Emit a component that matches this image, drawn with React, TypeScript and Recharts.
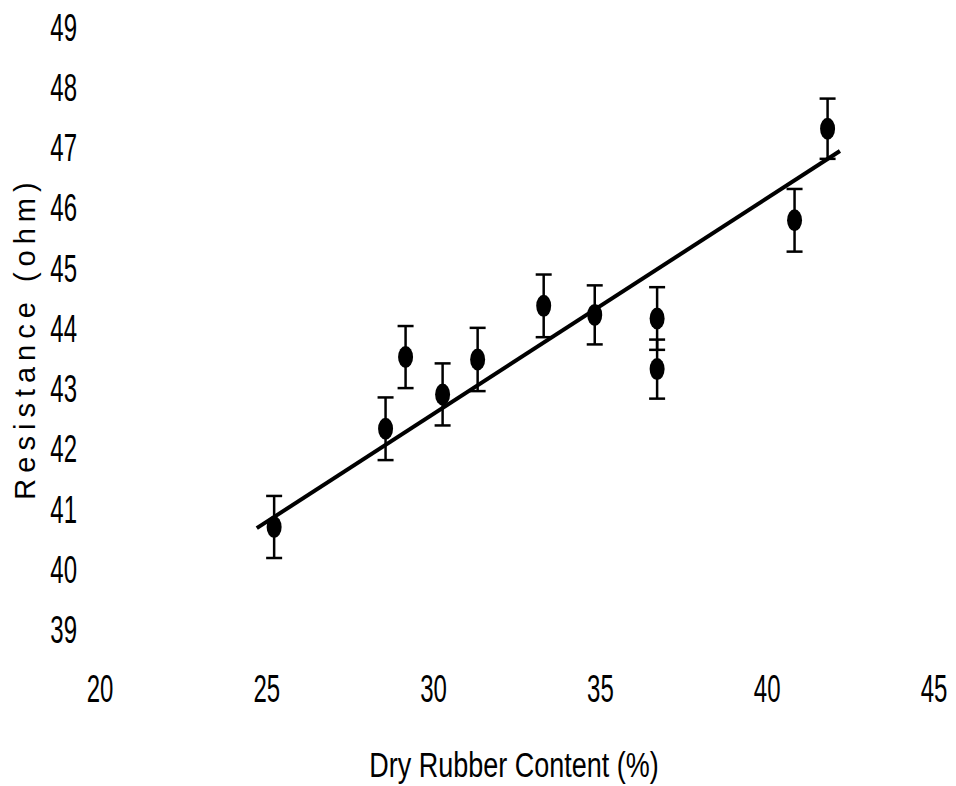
import { ErrorBar, Scatter, ScatterChart, XAxis, YAxis } from "recharts";

const drc = [25.22, 28.56, 29.16, 30.27, 31.32, 33.3, 34.83, 36.7, 36.7, 40.82, 41.81];
const resistance = [40.71, 42.34, 43.53, 42.91, 43.49, 44.38, 44.23, 44.17, 43.33, 45.8, 47.32];
const errors = [0.515, 0.52, 0.515, 0.515, 0.525, 0.52, 0.49, 0.52, 0.49, 0.52, 0.5];

const fitX = [24.7, 42.18];
const fitY = [40.69, 46.95];

const xTicks = [20, 25, 30, 35, 40, 45];
const yTicks = [39, 40, 41, 42, 43, 44, 45, 46, 47, 48, 49];

const points = drc.map((x, i) => ({ x, y: resistance[i], err: errors[i] }));
const fitLine = fitX.map((x, i) => ({ x, y: fitY[i] }));

const FONT = '"Liberation Sans", Arial, sans-serif';

const Dot = (props: any) => (
  <ellipse cx={props.cx} cy={props.cy} rx={7.5} ry={11} fill="#000" />
);

const YTick = (props: any) => (
  <text
    transform={`translate(77, ${props.y}) scale(1, 1.6)`}
    textAnchor="end"
    dominantBaseline="central"
    fontSize={24}
    fontFamily={FONT}
    fill="#000"
  >
    {props.payload.value}
  </text>
);

const XTick = (props: any) => (
  <text
    transform={`translate(${props.x}, 689) scale(1, 1.6)`}
    textAnchor="middle"
    dominantBaseline="central"
    fontSize={24}
    fontFamily={FONT}
    fill="#000"
  >
    {props.payload.value}
  </text>
);

export default function App() {
  return (
    <div style={{ position: "absolute", left: 0, top: 0, width: 956, height: 786, background: "#fff" }}>
      <ScatterChart width={956} height={786} margin={{ top: 27.5, right: 22, bottom: 96, left: 0 }}>
        <XAxis
          type="number"
          dataKey="x"
          domain={[20, 45]}
          ticks={xTicks}
          axisLine={false}
          tickLine={false}
          height={60}
          tick={XTick}
          label={() => (
            <text
              transform="translate(514, 776.5) scale(1, 1.29)"
              textAnchor="middle"
              fontSize={27}
              fontFamily={FONT}
              fill="#000"
            >
              Dry Rubber Content (%)
            </text>
          )}
        />
        <YAxis
          type="number"
          dataKey="y"
          domain={[39, 49]}
          ticks={yTicks}
          axisLine={false}
          tickLine={false}
          width={100}
          tick={YTick}
          label={() => (
            <text
              transform="translate(35, 338) rotate(-90)"
              textAnchor="middle"
              fontSize={29}
              letterSpacing={6}
              fontFamily={FONT}
              fill="#000"
            >
              Resistance (ohm)
            </text>
          )}
        />
        <Scatter
          data={fitLine}
          line={{ stroke: "#000", strokeWidth: 4 }}
          shape={() => <g />}
          isAnimationActive={false}
        />
        <Scatter data={points} shape={Dot} isAnimationActive={false}>
          <ErrorBar dataKey="err" direction="y" width={8} strokeWidth={2.5} stroke="#000" />
        </Scatter>
      </ScatterChart>
    </div>
  );
}
